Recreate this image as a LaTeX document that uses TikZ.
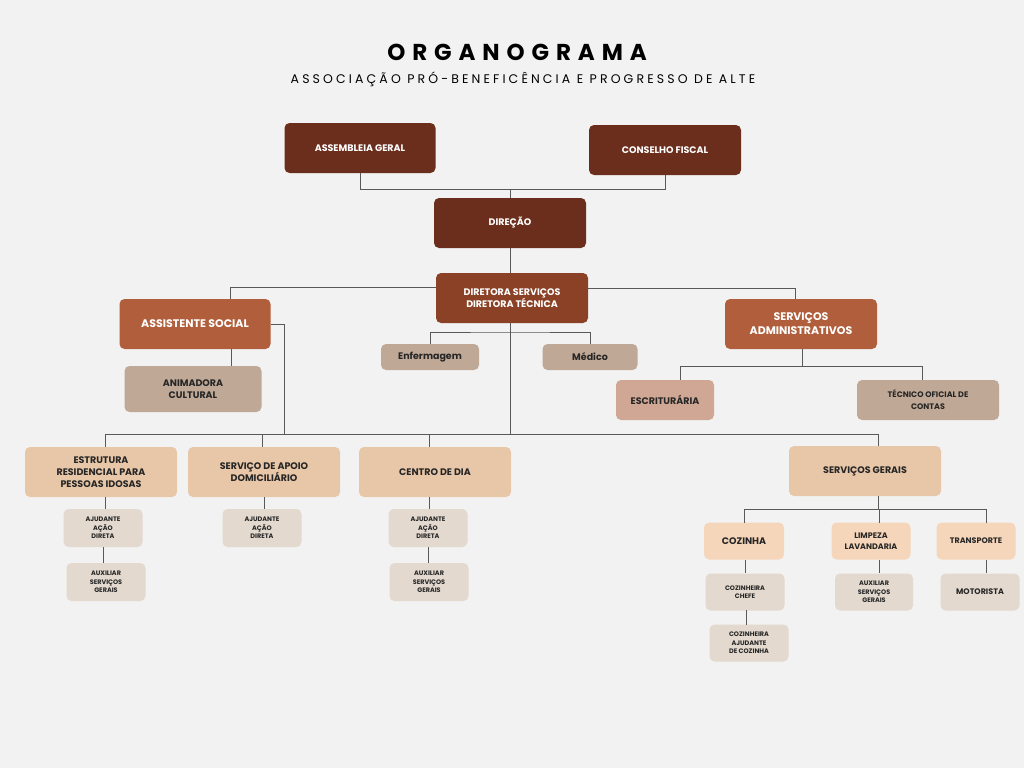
\documentclass[tikz,border=0pt]{standalone}
\usepackage{fontspec}
\setmainfont{Poppins}
\begin{document}
\begin{tikzpicture}[x=1pt,y=-1pt,
 b/.style={rounded corners=5pt,align=center,inner sep=0pt,font=\bfseries\fontsize{9.5}{12}\selectfont},
 dk/.style={b,fill=c1,text=white},
 md/.style={b,fill=c2,text=white},
 rs/.style={b,fill=c3,text=white},
 tn/.style={b,fill=c4,text=black!85},
 pe/.style={b,fill=c5,text=black!85},
 sm/.style={b,fill=c6,text=black!85,font=\bfseries\fontsize{6.5}{8.5}\selectfont},
 ln/.style={draw=black!65,line width=0.9pt}]
\definecolor{c1}{HTML}{6B2E1C}\definecolor{c2}{HTML}{8A4126}\definecolor{c3}{HTML}{B05E3B}
\definecolor{c4}{HTML}{C0A896}\definecolor{c5}{HTML}{E8C6A8}\definecolor{c6}{HTML}{E3D9CF}
\definecolor{c7}{HTML}{D0A795}\definecolor{c8}{HTML}{F6D6BA}
\fill[fill=black!5] (0,0) rectangle (1024,768);
\useasboundingbox (0,0) rectangle (1024,768);
\node (t) at (517,52) {\bfseries\addfontfeatures{LetterSpace=30}\fontsize{23}{26}\selectfont ORGANOGRAMA};
\node (st) at (523,79) {\addfontfeatures{LetterSpace=25}\fontsize{12.5}{14}\selectfont ASSOCIAÇÃO PRÓ-BENEFICÊNCIA E PROGRESSO DE ALTE};
\node[dk,minimum width=151,minimum height=50] (ag) at (360,148) {ASSEMBLEIA GERAL};
\node[dk,minimum width=152,minimum height=50] (cf) at (665,150) {CONSELHO FISCAL};
\node[dk,minimum width=152,minimum height=50] (dir) at (510,223) {DIREÇÃO};
\node[md,minimum width=152,minimum height=50] (dt) at (512,298) {DIRETORA SERVIÇOS\\DIRETORA TÉCNICA};
\node[rs,minimum width=151,minimum height=50,font=\bfseries\fontsize{11}{13}\selectfont] (as) at (195,324) {ASSISTENTE SOCIAL};
\node[tn,minimum width=137,minimum height=46] (an) at (193,389) {ANIMADORA\\CULTURAL};
\node[tn,minimum width=98,minimum height=26,font=\bfseries\fontsize{9.5}{12}\selectfont] (en) at (430,357) {Enfermagem};
\node[tn,minimum width=95,minimum height=26] (me) at (590,357) {Médico};
\node[rs,minimum width=152,minimum height=50,font=\bfseries\fontsize{11}{14}\selectfont] (sa) at (801,324) {SERVIÇOS\\ADMINISTRATIVOS};
\node[b,fill=c7,text=black!85,minimum width=98,minimum height=40] (es) at (665,400) {ESCRITURÁRIA};
\node[tn,minimum width=142,minimum height=40,font=\bfseries\fontsize{8}{12}\selectfont] (tc) at (928,400) {TÉCNICO OFICIAL DE\\CONTAS};
\node[pe,minimum width=152,minimum height=50] (er) at (101,472) {ESTRUTURA\\RESIDENCIAL PARA\\PESSOAS IDOSAS};
\node[pe,minimum width=152,minimum height=50] (sd) at (264,472) {SERVIÇO DE APOIO\\DOMICILIÁRIO};
\node[pe,minimum width=152,minimum height=50] (cd) at (435,472) {CENTRO DE DIA};
\node[pe,minimum width=152,minimum height=50] (sg) at (865,471) {SERVIÇOS GERAIS};
\node[sm,minimum width=79,minimum height=38] (a1) at (103,528) {AJUDANTE\\AÇÃO\\DIRETA};
\node[sm,minimum width=79,minimum height=38] (x1) at (106,582) {AUXILIAR\\SERVIÇOS\\GERAIS};
\node[sm,minimum width=79,minimum height=38] (a2) at (262,528) {AJUDANTE\\AÇÃO\\DIRETA};
\node[sm,minimum width=79,minimum height=38] (a3) at (428,528) {AJUDANTE\\AÇÃO\\DIRETA};
\node[sm,minimum width=79,minimum height=38] (x3) at (429,582) {AUXILIAR\\SERVIÇOS\\GERAIS};
\node[b,fill=c8,text=black!85,minimum width=80,minimum height=37] (co) at (744,541) {COZINHA};
\node[b,fill=c8,text=black!85,minimum width=79,minimum height=37,font=\bfseries\fontsize{8}{11}\selectfont] (li) at (871,541) {LIMPEZA\\LAVANDARIA};
\node[b,fill=c8,text=black!85,minimum width=79,minimum height=37,font=\bfseries\fontsize{8}{11}\selectfont] (tr) at (976,541) {TRANSPORTE};
\node[sm,minimum width=79,minimum height=37] (cc) at (745,592) {COZINHEIRA\\CHEFE};
\node[sm,minimum width=79,minimum height=37] (ca) at (749,643) {COZINHEIRA\\AJUDANTE\\DE COZINHA};
\node[sm,minimum width=78,minimum height=37] (al) at (874,592) {AUXILIAR\\SERVIÇOS\\GERAIS};
\node[sm,minimum width=79,minimum height=37,font=\bfseries\fontsize{8}{10}\selectfont] (mo) at (980,592) {MOTORISTA};
% connectors
\draw[ln] (ag.south) -- (360,189) -| (cf.south);
\draw[ln] (510,189) -- (dir.north);
\draw[ln] (dir.south) -- (dir.south|-dt.north);
\draw[ln] (dt.west|-0,287) -- (230,287) -- (230,299);
\draw[ln] (dt.east|-0,288) -- (795,288) -- (795,299);
\draw[ln] (231,349) -- (231,366);
\draw[ln] (510,323) -- (510,434);
\draw[ln] (430,344) |- (510,332) -| (590,344);
\draw[ln] (as.east) -- (284,324) -- (284,434);
\draw[ln] (105,447) |- (878,434) -- (878,446);
\draw[ln] (262,434) -- (262,447);
\draw[ln] (429,434) -- (429,447);
\draw[ln] (802,349) -- (802,366);
\draw[ln] (680,380) |- (922,366) -- (922,380);
\draw[ln] (105,497) -- (105,509);
\draw[ln] (103,547) -- (103,563);
\draw[ln] (264,497) -- (264,509);
\draw[ln] (429,497) -- (429,509);
\draw[ln] (428,547) -- (428,563);
\draw[ln] (878,496) -- (878,509);
\draw[ln] (744,523) |- (986,509) -- (986,523);
\draw[ln] (879,509) -- (879,523);
\draw[ln] (745,560) -- (745,573);
\draw[ln] (746,610) -- (746,625);
\draw[ln] (879,560) -- (879,573);
\draw[ln] (986,560) -- (986,573);
\end{tikzpicture}
\end{document}
